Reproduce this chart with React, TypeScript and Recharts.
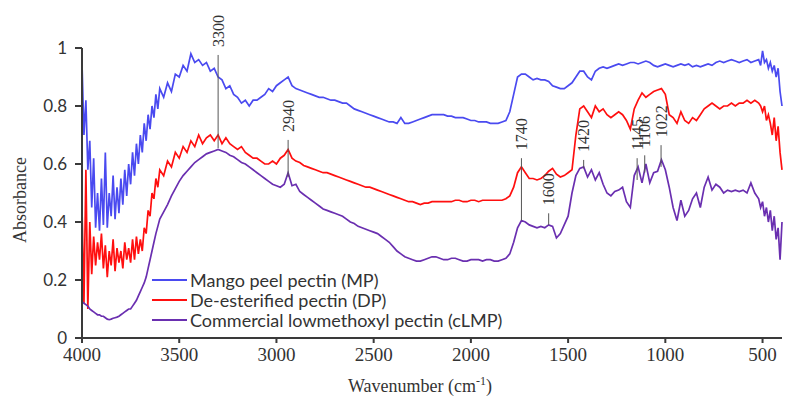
import React from "react";
import { LineChart, Line, XAxis, YAxis, ReferenceLine, Legend } from "recharts";

// wavenumber grid (cm-1), denser where the spectra are noisy
const wavenumbers = [
  4000, 3990, 3980, 3970, 3960, 3950, 3940, 3930, 3920, 3910,
  3900, 3890, 3880, 3870, 3860, 3850, 3840, 3830, 3820, 3810,
  3800, 3790, 3780, 3770, 3760, 3750, 3740, 3730, 3720, 3710,
  3700, 3690, 3680, 3670, 3660, 3650, 3640, 3630, 3620, 3610,
  3600,
  3580, 3560, 3540, 3520, 3500, 3480, 3460, 3440, 3420, 3400,
  3380, 3360, 3340, 3320, 3300, 3280, 3260, 3240, 3220, 3200,
  3180, 3160, 3140, 3120, 3100, 3080, 3060, 3040, 3020, 3000,
  2980, 2960, 2940, 2920, 2900, 2880, 2860, 2840, 2820, 2800,
  2780, 2760, 2740, 2720, 2700, 2680, 2660, 2640, 2620, 2600,
  2580, 2560, 2540, 2520, 2500, 2480, 2460, 2440, 2420, 2400,
  2380, 2360, 2340, 2320, 2300, 2280, 2260, 2240, 2220, 2200,
  2180, 2160, 2140, 2120, 2100, 2080, 2060, 2040, 2020, 2000,
  1980, 1960, 1940, 1920, 1900, 1880, 1860, 1840, 1820,
  1800, 1780, 1760, 1740, 1720, 1700, 1680, 1660, 1640, 1620,
  1600, 1580, 1560, 1540, 1520, 1500, 1480, 1460, 1440, 1420,
  1400, 1380, 1360, 1340, 1320, 1300, 1280, 1260, 1240, 1220,
  1200, 1180, 1160, 1140, 1120, 1100, 1080, 1060, 1040, 1020,
  1000, 980, 960, 940, 920, 900, 880, 860, 840, 820,
  800, 780, 760, 740, 720, 700, 680, 660, 640, 620,
  600, 580, 560, 540, 520,
  510, 500, 490, 480, 470, 460, 450, 440, 430, 420, 410, 400,
];

// Mango peel pectin (MP)
const mpValues = [
  0.95, 0.7, 0.82, 0.58, 0.68, 0.45, 0.62, 0.38, 0.5, 0.37,
  0.55, 0.39, 0.64, 0.38, 0.5, 0.42, 0.56, 0.41, 0.52, 0.43,
  0.55, 0.46, 0.58, 0.49, 0.6, 0.53, 0.64, 0.56, 0.67, 0.6,
  0.7, 0.64, 0.74, 0.68, 0.77, 0.72, 0.8, 0.76, 0.84, 0.79,
  0.86,
  0.83, 0.88, 0.85, 0.91, 0.9, 0.94, 0.92, 0.98, 0.95, 0.96,
  0.94, 0.95, 0.92, 0.93, 0.9, 0.89, 0.86, 0.87, 0.84, 0.83,
  0.81, 0.82, 0.8, 0.82, 0.82, 0.83, 0.84, 0.86, 0.85, 0.87,
  0.88, 0.89, 0.9, 0.87, 0.86, 0.855, 0.85, 0.845, 0.84, 0.835,
  0.83, 0.83, 0.825, 0.82, 0.82, 0.815, 0.81, 0.81, 0.8, 0.79,
  0.785, 0.78, 0.775, 0.77, 0.765, 0.76, 0.755, 0.75, 0.745, 0.745,
  0.74, 0.76, 0.74, 0.74, 0.745, 0.75, 0.755, 0.76, 0.765, 0.77,
  0.77, 0.77, 0.77, 0.765, 0.765, 0.76, 0.76, 0.76, 0.755, 0.75,
  0.75, 0.745, 0.745, 0.745, 0.74, 0.74, 0.74, 0.745, 0.75,
  0.78, 0.84, 0.9, 0.91, 0.91, 0.9, 0.89, 0.895, 0.89, 0.89,
  0.885, 0.87, 0.865, 0.86, 0.86, 0.87, 0.88, 0.9, 0.92, 0.92,
  0.9, 0.89, 0.92, 0.93, 0.935, 0.93, 0.935, 0.94, 0.945, 0.94,
  0.945, 0.95, 0.95, 0.945, 0.95, 0.955, 0.95, 0.94, 0.935, 0.94,
  0.945, 0.94, 0.935, 0.94, 0.945, 0.94, 0.945, 0.935, 0.94, 0.935,
  0.94, 0.945, 0.94, 0.95, 0.955, 0.95, 0.955, 0.96, 0.955, 0.95,
  0.955, 0.96, 0.95, 0.955, 0.96,
  0.94, 0.99, 0.95, 0.96, 0.93, 0.95, 0.92, 0.94, 0.9, 0.93, 0.85, 0.8,
];

// De-esterified pectin (DP)
const dpValues = [
  0.45, 0.12, 0.58, 0.1, 0.4, 0.22, 0.35, 0.25, 0.33, 0.27,
  0.36, 0.24, 0.32, 0.21, 0.3, 0.25, 0.34, 0.23, 0.31, 0.26,
  0.3, 0.24, 0.33, 0.27, 0.31, 0.26, 0.34, 0.27, 0.35, 0.29,
  0.34, 0.3, 0.38, 0.36, 0.44, 0.42, 0.5, 0.48, 0.55, 0.52,
  0.58,
  0.56, 0.61, 0.59, 0.64, 0.62, 0.66, 0.64, 0.68, 0.66, 0.7,
  0.67, 0.69, 0.7, 0.68, 0.7, 0.67, 0.69, 0.67, 0.66, 0.65,
  0.66, 0.64, 0.63, 0.62, 0.62, 0.61, 0.6, 0.6, 0.61, 0.6,
  0.62, 0.63, 0.65, 0.62, 0.61, 0.605, 0.595, 0.59, 0.585, 0.58,
  0.575, 0.57, 0.57, 0.565, 0.56, 0.555, 0.55, 0.545, 0.54, 0.535,
  0.53, 0.525, 0.52, 0.52, 0.515, 0.51, 0.505, 0.5, 0.495, 0.49,
  0.485, 0.48, 0.475, 0.47, 0.47, 0.465, 0.46, 0.465, 0.465, 0.47,
  0.47, 0.47, 0.47, 0.47, 0.47, 0.475, 0.475, 0.47, 0.47, 0.475,
  0.475, 0.47, 0.475, 0.475, 0.475, 0.475, 0.475, 0.475, 0.48,
  0.49, 0.52, 0.57, 0.59, 0.57, 0.55, 0.55, 0.545, 0.55, 0.56,
  0.575, 0.585, 0.565, 0.555, 0.56, 0.57, 0.58, 0.7, 0.79, 0.8,
  0.78, 0.76, 0.8, 0.78, 0.79, 0.77, 0.76, 0.77, 0.78, 0.77,
  0.75, 0.72, 0.79, 0.82, 0.845, 0.83, 0.84, 0.85, 0.855, 0.86,
  0.84, 0.77, 0.76, 0.74, 0.78, 0.75, 0.74, 0.76, 0.75, 0.77,
  0.79, 0.8, 0.81, 0.8, 0.79, 0.8, 0.8, 0.81, 0.8, 0.81,
  0.81, 0.82, 0.81, 0.82, 0.81,
  0.8, 0.78, 0.8, 0.75, 0.77, 0.74, 0.7, 0.76, 0.68, 0.73, 0.64, 0.58,
];

// Commercial lowmethoxyl pectin (cLMP)
const clmpValues = [
  0.125, 0.12, 0.115, 0.11, 0.1, 0.095, 0.09, 0.085, 0.08, 0.08,
  0.075, 0.075, 0.07, 0.065, 0.063, 0.065, 0.068, 0.07, 0.072, 0.075,
  0.08, 0.085, 0.09, 0.095, 0.1, 0.1, 0.11, 0.12, 0.13, 0.145,
  0.16, 0.175, 0.19, 0.21, 0.24, 0.27, 0.3, 0.33, 0.36, 0.385,
  0.41,
  0.435, 0.46, 0.49, 0.515, 0.54, 0.56, 0.575, 0.59, 0.605, 0.615,
  0.625, 0.635, 0.64, 0.645, 0.65, 0.645, 0.64, 0.63, 0.625, 0.615,
  0.605, 0.6, 0.59, 0.58, 0.57, 0.56, 0.55, 0.54, 0.53, 0.525,
  0.52, 0.53, 0.57, 0.525, 0.53, 0.505, 0.495, 0.485, 0.475, 0.465,
  0.455, 0.445, 0.44, 0.435, 0.43, 0.425, 0.42, 0.41, 0.4, 0.395,
  0.385, 0.38, 0.375, 0.37, 0.365, 0.36, 0.35, 0.34, 0.33, 0.315,
  0.3, 0.29, 0.28, 0.275, 0.27, 0.265, 0.265, 0.27, 0.275, 0.28,
  0.28, 0.275, 0.27, 0.27, 0.275, 0.275, 0.27, 0.265, 0.265, 0.27,
  0.27, 0.27, 0.265, 0.27, 0.27, 0.265, 0.265, 0.27, 0.275,
  0.29, 0.33, 0.38, 0.405, 0.4, 0.39, 0.385, 0.38, 0.385, 0.38,
  0.39, 0.385, 0.345, 0.36, 0.39, 0.42, 0.5, 0.56, 0.585, 0.59,
  0.555, 0.58, 0.545, 0.57, 0.53, 0.5, 0.49, 0.505, 0.51, 0.52,
  0.47, 0.45, 0.56, 0.59, 0.535, 0.6, 0.535, 0.57, 0.575, 0.615,
  0.58, 0.52, 0.45, 0.405, 0.475, 0.42, 0.44, 0.48, 0.5, 0.45,
  0.52, 0.555, 0.51, 0.53, 0.52, 0.5, 0.51, 0.505, 0.51, 0.505,
  0.51, 0.5, 0.535, 0.5, 0.48,
  0.45, 0.47, 0.42, 0.45, 0.4, 0.44, 0.37, 0.42, 0.34, 0.38, 0.27, 0.4,
];

const seriesNames = [
  "Mango peel pectin (MP)",
  "De-esterified pectin (DP)",
  "Commercial lowmethoxyl pectin (cLMP)",
];
const seriesColors = ["#4a4af0", "#ff0f0f", "#6a2fb0"];

const xTicks = [4000, 3500, 3000, 2500, 2000, 1500, 1000, 500];
const yTicks = [0, 0.2, 0.4, 0.6, 0.8, 1];

// band assignments: label, wavenumber, top and bottom of the marker line
const peakLabels = ["3300", "2940", "1740", "1600", "1420", "1145", "1106", "1022"];
const peakWavenumbers = [3300, 2940, 1740, 1600, 1420, 1145, 1106, 1022];
const peakTops = [0.976, 0.683, 0.62, 0.43, 0.614, 0.62, 0.63, 0.665];
const peakBottoms = [0.655, 0.555, 0.405, 0.39, 0.585, 0.545, 0.57, 0.59];

const rows = wavenumbers.map((wn, i) => ({
  wn,
  mp: mpValues[i],
  dp: dpValues[i],
  clmp: clmpValues[i],
}));

const SERIF = "'Liberation Serif', 'Times New Roman', serif";
const SANS = "Lato, 'Liberation Sans', sans-serif";
const AXIS = "#3a3a3a";

function PeakLabel(props: any) {
  const { viewBox, text } = props;
  const x = viewBox.x;
  const y = viewBox.y - 8;
  return (
    <text
      x={x}
      y={y}
      transform={`rotate(-90 ${x} ${y})`}
      textAnchor="start"
      dominantBaseline="central"
      fontFamily={SERIF}
      fontSize={16}
      fill="#333"
    >
      {text}
    </text>
  );
}

function LegendBox() {
  return (
    <div style={{ fontFamily: SANS, fontSize: 18, color: "#333" }}>
      {seriesNames.map((name, i) => (
        <div key={name} style={{ display: "flex", alignItems: "center", height: 20 }}>
          <svg width={37} height={20}>
            <line x1={1} y1={10} x2={36} y2={10} stroke={seriesColors[i]} strokeWidth={2} />
          </svg>
          <span style={{ marginLeft: 2, whiteSpace: "nowrap" }}>{name}</span>
        </div>
      ))}
    </div>
  );
}

export default function App() {
  return (
    <div style={{ position: "absolute", left: 0, top: 0, background: "#fff" }}>
      <LineChart
        width={785}
        height={396}
        data={rows}
        margin={{ top: 48, right: 3, bottom: 0, left: 0 }}
      >
        <XAxis
          dataKey="wn"
          type="number"
          domain={[400, 4000]}
          reversed
          ticks={xTicks}
          height={58}
          tickSize={5}
          tickMargin={5}
          stroke={AXIS}
          strokeWidth={2}
          tick={{ fontFamily: SERIF, fontSize: 19, fill: "#333" }}
          label={(p: any) => (
            <text
              x={p.viewBox.x + p.viewBox.width / 2 - 12}
              y={392}
              textAnchor="middle"
              fontFamily={SERIF}
              fontSize={18}
              fill="#333"
            >
              Wavenumber (cm
              <tspan fontSize={12} dy={-7}>-1</tspan>
              <tspan dy={7}>)</tspan>
            </text>
          )}
        />
        <YAxis
          type="number"
          domain={[0, 1]}
          ticks={yTicks}
          width={82}
          tickSize={7}
          tickMargin={8}
          stroke={AXIS}
          strokeWidth={2}
          tick={{ fontFamily: SANS, fontSize: 17, fill: "#333" }}
          label={() => (
            <text
              x={20}
              y={200}
              transform="rotate(-90 20 200)"
              textAnchor="middle"
              dominantBaseline="central"
              fontFamily={SERIF}
              fontSize={18}
              fill="#333"
            >
              Absorbance
            </text>
          )}
        />
        <Line
          dataKey="mp"
          name={seriesNames[0]}
          stroke={seriesColors[0]}
          strokeWidth={1.7}
          dot={false}
          isAnimationActive={false}
        />
        <Line
          dataKey="dp"
          name={seriesNames[1]}
          stroke={seriesColors[1]}
          strokeWidth={1.7}
          dot={false}
          isAnimationActive={false}
        />
        <Line
          dataKey="clmp"
          name={seriesNames[2]}
          stroke={seriesColors[2]}
          strokeWidth={1.7}
          dot={false}
          isAnimationActive={false}
        />
        {peakWavenumbers.map((wn, i) => (
          <ReferenceLine
            key={peakLabels[i]}
            segment={[
              { x: wn, y: peakTops[i] },
              { x: wn, y: peakBottoms[i] },
            ]}
            stroke="#555"
            strokeWidth={1}
            label={(p: any) => <PeakLabel {...p} text={peakLabels[i]} />}
          />
        ))}
        <Legend
          layout="vertical"
          align="center"
          verticalAlign="middle"
          content={() => <LegendBox />}
          wrapperStyle={{ left: 151, top: 270, width: 420 }}
        />
      </LineChart>
    </div>
  );
}
